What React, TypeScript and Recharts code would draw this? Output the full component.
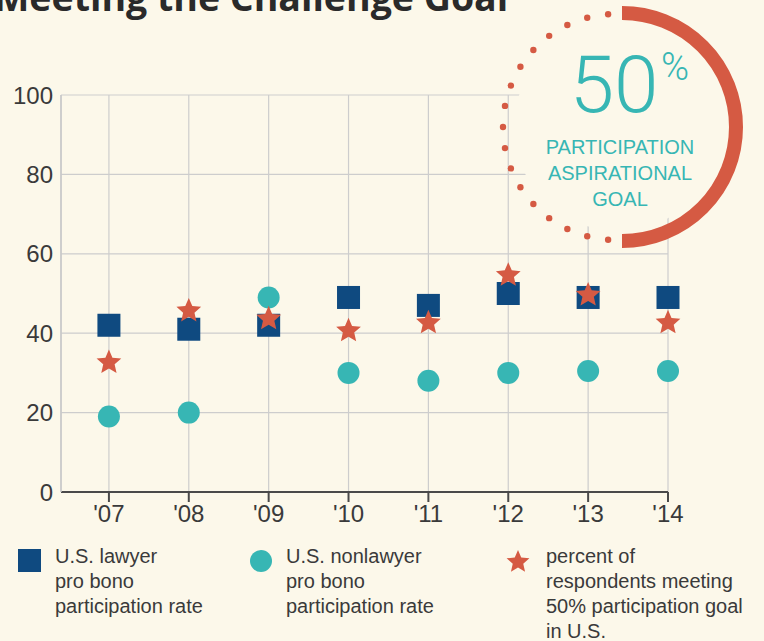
import { ScatterChart, Scatter, XAxis, YAxis, CartesianGrid } from "recharts";

// survey years and three series (percent)
const categories = ["'07", "'08", "'09", "'10", "'11", "'12", "'13", "'14"];
const lawyerRate = [42, 41, 42, 49, 47, 50, 49, 49];
const nonlawyerRate = [19, 20, 49, 30, 28, 30, 30.5, 30.5];
const goalMet = [33, 46, 44, 41, 43, 55, 50, 43];
const yTicks = [0, 20, 40, 60, 80, 100];

const BG = "#fcf8ea";
const BLUE = "#0f4a80";
const TEAL = "#37b6b4";
const RED = "#d55a43";
const INK = "#3a3a3a";
const SANS = "'Liberation Sans', Arial, sans-serif";

const toPoints = (vals: number[]) => vals.map((v, i) => ({ x: i, y: v }));

const starPath = (cx: number, cy: number, r: number) => {
  const inner = r * 0.46;
  const pts: string[] = [];
  for (let k = 0; k < 10; k++) {
    const rad = k % 2 === 0 ? r : inner;
    const a = -Math.PI / 2 + (k * Math.PI) / 5;
    pts.push(`${(cx + rad * Math.cos(a)).toFixed(2)},${(cy + rad * Math.sin(a)).toFixed(2)}`);
  }
  return pts.join(" ");
};

const SquareDot = (p: any) => <rect x={p.cx - 11.5} y={p.cy - 11.5} width={23} height={23} fill={BLUE} />;
const CircleDot = (p: any) => <circle cx={p.cx} cy={p.cy} r={11} fill={TEAL} />;
const StarDot = (p: any) => <polygon points={starPath(p.cx, p.cy + 1.5, 13)} fill={RED} />;

// dotted half of the goal ring
const DOT_COUNT = 17;
const ringDots = Array.from({ length: DOT_COUNT }, (_, i) => {
  const deg = 4 + (172 * i) / (DOT_COUNT - 1);
  const a = (deg * Math.PI) / 180;
  return { x: 616 - 113 * Math.sin(a), y: 127 - 113 * Math.cos(a) };
});

const legendLine = { fontFamily: SANS, fontSize: 20, fill: INK } as const;

export default function App() {
  return (
    <div style={{ position: "absolute", left: 0, top: 0, width: 764, height: 641, background: BG, overflow: "hidden" }}>
      <ScatterChart width={764} height={641} margin={{ top: 95, right: 96, bottom: 109, left: 0 }}>
        <CartesianGrid stroke="#cdcdcd" strokeWidth={1.2} />
        <XAxis
          type="number"
          dataKey="x"
          domain={[-0.6, 7]}
          ticks={[0, 1, 2, 3, 4, 5, 6, 7]}
          tickFormatter={(v) => categories[v] ?? ""}
          height={40}
          stroke="#4a4a4a"
          strokeWidth={2}
          tickSize={10}
          tickMargin={3}
          tick={{ fontSize: 24, fill: INK, fontFamily: SANS }}
        />
        <YAxis
          type="number"
          dataKey="y"
          domain={[0, 100]}
          ticks={yTicks}
          width={61}
          stroke="#c8c8c8"
          strokeWidth={1.5}
          tickLine={false}
          tick={{ fontSize: 24, fill: INK, fontFamily: SANS }}
        />
        <Scatter data={toPoints(lawyerRate)} shape={SquareDot} isAnimationActive={false} />
        <Scatter data={toPoints(nonlawyerRate)} shape={CircleDot} isAnimationActive={false} />
        <Scatter data={toPoints(goalMet)} shape={StarDot} isAnimationActive={false} />
      </ScatterChart>

      <svg width={764} height={641} style={{ position: "absolute", left: 0, top: 0, pointerEvents: "none" }}>
        <text x={-6} y={11} fontFamily="'Open Sans', sans-serif" fontWeight={700} fontSize={37.5} fill="#2a2a2a">
          Meeting the Challenge Goal
        </text>

        {/* goal ring */}
        <circle cx={618} cy={127} r={104} fill={BG} />
        <path d="M622 13 A114 114 0 0 1 622 241" fill="none" stroke={RED} strokeWidth={14} />
        {ringDots.map((d, i) => (
          <circle key={i} cx={d.x} cy={d.y} r={3.2} fill={RED} />
        ))}
        <text x={614} y={112} textAnchor="middle" fontFamily="Roboto, sans-serif" fontWeight={300} fontSize={80} fill={TEAL}>
          50
        </text>
        <text x={661} y={80} fontFamily="Roboto, sans-serif" fontWeight={300} fontSize={38} fill={TEAL}>
          %
        </text>
        <g fontFamily={SANS} fontSize={20} fill={TEAL} textAnchor="middle">
          <text x={620} y={154}>PARTICIPATION</text>
          <text x={620} y={180}>ASPIRATIONAL</text>
          <text x={620} y={206}>GOAL</text>
        </g>

        {/* legend */}
        <rect x={18} y={549} width={23} height={23} fill={BLUE} />
        <text {...legendLine}>
          <tspan x={55} y={563}>U.S. lawyer</tspan>
          <tspan x={55} y={588}>pro bono</tspan>
          <tspan x={55} y={613}>participation rate</tspan>
        </text>
        <circle cx={261} cy={561} r={11} fill={TEAL} />
        <text {...legendLine}>
          <tspan x={286} y={563}>U.S. nonlawyer</tspan>
          <tspan x={286} y={588}>pro bono</tspan>
          <tspan x={286} y={613}>participation rate</tspan>
        </text>
        <polygon points={starPath(518, 562, 12)} fill={RED} />
        <text {...legendLine}>
          <tspan x={546} y={563}>percent of</tspan>
          <tspan x={546} y={588}>respondents meeting</tspan>
          <tspan x={546} y={613}>50% participation goal</tspan>
          <tspan x={546} y={638}>in U.S.</tspan>
        </text>
      </svg>
    </div>
  );
}
